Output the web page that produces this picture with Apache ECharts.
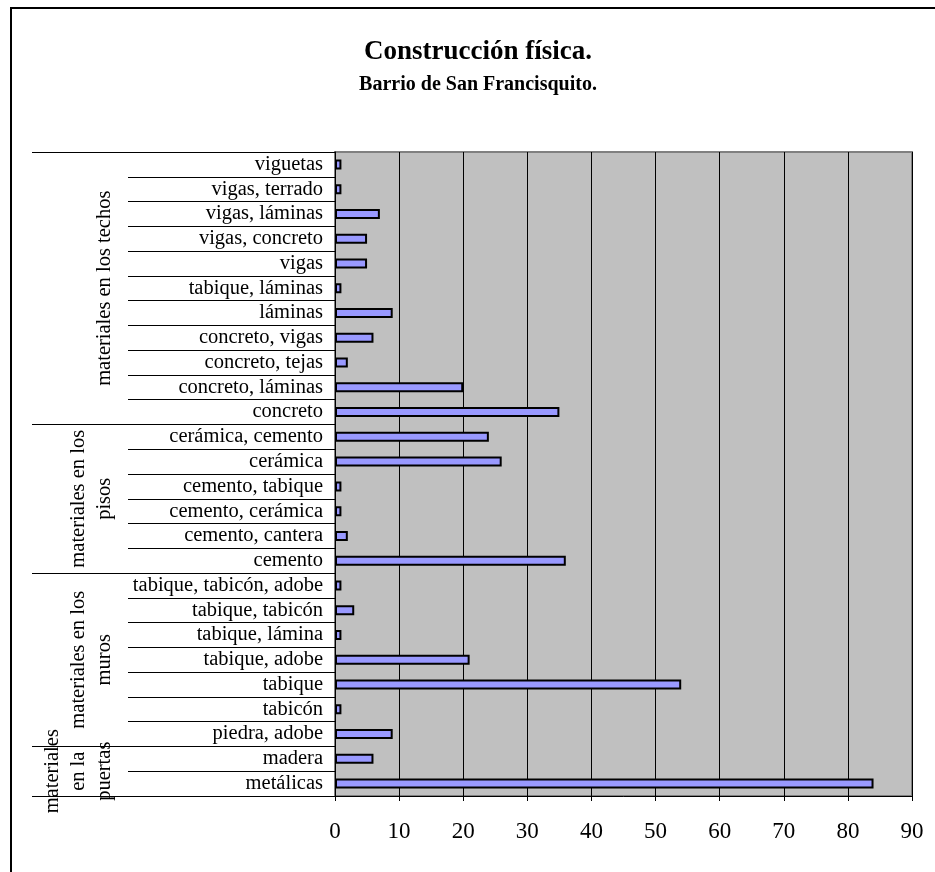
<!DOCTYPE html>
<html><head><meta charset="utf-8">
<script src="https://cdn.jsdelivr.net/npm/echarts@6/dist/echarts.min.js"></script>
<style>html,body{margin:0;padding:0;background:#fff}#c{width:935px;height:872px}</style>
</head><body><div id="c"></div>
<script>
const titleText = 'Construcción física.';
const subtitleText = 'Barrio de San Francisquito.';
const categories = ['viguetas','vigas, terrado','vigas, láminas','vigas, concreto','vigas','tabique, láminas','láminas','concreto, vigas','concreto, tejas','concreto, láminas','concreto',
  'cerámica, cemento','cerámica','cemento, tabique','cemento, cerámica','cemento, cantera','cemento',
  'tabique, tabicón, adobe','tabique, tabicón','tabique, lámina','tabique, adobe','tabique','tabicón','piedra, adobe',
  'madera','metálicas'];
const values = [1,1,7,5,5,1,9,6,2,20,35, 24,26,1,1,2,36, 1,3,1,21,54,1,9, 6,84];
const groupLabels = [['materiales en los techos'], ['materiales en los','pisos'], ['materiales en los','muros'], ['materiales','en la','puertas']];
const groupSizes = [11, 6, 7, 2];
const xTickMin = 0, xTickMax = 90, xTickStep = 10;

const FONT = 'Liberation Serif';
const chart = echarts.init(document.getElementById('c'), null, {renderer:'canvas'});
const option = {
  animation: false,
  backgroundColor: '#fff',
  title: [
    {text: titleText, left: 478, top: 39, textAlign: 'center', padding: 0,
     textStyle: {fontFamily: FONT, fontWeight: 'bold', fontSize: 27, color: '#000'}},
    {text: subtitleText, left: 478, top: 75, textAlign: 'center', padding: 0,
     textStyle: {fontFamily: FONT, fontWeight: 'bold', fontSize: 20, color: '#000'}}
  ],
  grid: {left: 335, right: 23, top: 152, bottom: 76, show: true, backgroundColor: '#c0c0c0', borderColor: '#808080', borderWidth: 2},
  xAxis: {
    type: 'value', min: xTickMin, max: xTickMax, interval: xTickStep,
    axisLine: {show: true, lineStyle: {color: '#000', width: 1}},
    axisTick: {show: true, length: 5, lineStyle: {color: '#000'}},
    axisLabel: {fontFamily: FONT, fontSize: 23, color: '#000', margin: 24},
    splitLine: {show: true, lineStyle: {color: '#000', width: 1}}
  },
  yAxis: {
    type: 'category', inverse: true, data: categories,
    axisLine: {show: true, lineStyle: {color: '#000', width: 1}},
    axisTick: {show: true, length: 207, lineStyle: {color: '#000', width: 1}},
    axisLabel: {fontFamily: FONT, fontSize: 20.5, color: '#000', margin: 12, interval: 0},
    splitLine: {show: false}
  },
  series: [{
    type: 'bar', data: values, barWidth: 10,
    itemStyle: {color: '#9999ff', borderColor: '#000', borderWidth: 2}
  }]
};
chart.setOption(option);

const yc0 = chart.convertToPixel({yAxisIndex: 0}, categories[0]);
const yc1 = chart.convertToPixel({yAxisIndex: 0}, categories[1]);
const band = yc1 - yc0;
const boundary = i => yc0 + (i - 0.5) * band;
const plotLeft = chart.convertToPixel({xAxisIndex: 0}, 0);
const elements = [];
elements.push({type: 'rect', shape: {x: 11, y: 8, width: 1000, height: 1000}, style: {fill: 'none', stroke: '#000', lineWidth: 2}, z: 100});
let start = 0;
const bounds = [boundary(0)];
groupSizes.forEach((n, gi) => {
  const top = boundary(start), bottom = boundary(start + n);
  bounds.push(bottom);
  const mid = (top + bottom) / 2;
  const lines = groupLabels[gi];
  lines.forEach((t, li) => {
    const x = 105 - (lines.length - 1 - li) * 26;
    elements.push({type: 'text', x: x, y: mid, rotation: Math.PI / 2,
      style: {text: t, fontFamily: FONT, fontSize: 20.5, fill: '#000', align: 'center', verticalAlign: 'middle'}, z: 100});
  });
  start += n;
});
bounds.forEach(y => {
  elements.push({type: 'line', shape: {x1: 32, y1: Math.round(y) + 0.5, x2: plotLeft, y2: Math.round(y) + 0.5}, style: {stroke: '#000', lineWidth: 1}, z: 100});
});
chart.setOption({graphic: elements});
</script></body></html>
